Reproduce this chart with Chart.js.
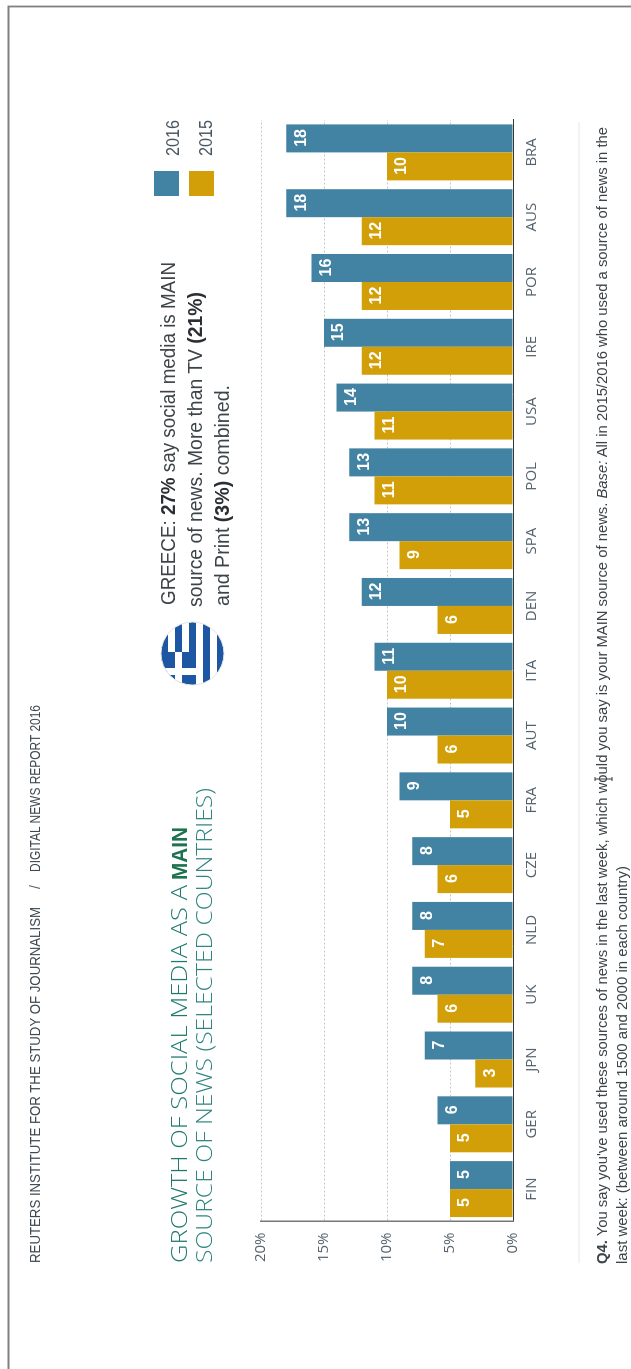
<!DOCTYPE html>
<html>
<head>
<meta charset="utf-8">
<script src="https://cdn.jsdelivr.net/npm/chart.js@4/dist/chart.umd.min.js"></script>
<style>
html,body{margin:0;padding:0;background:#fff;width:631px;height:1369px;overflow:hidden}
#page{position:absolute;left:0;top:0;width:1369px;height:631px;transform-origin:0 0;transform:translate(0,1369px) rotate(-90deg);background:#fff}
#page canvas,#page svg{position:absolute;left:0;top:0}
svg text{font-family:"Liberation Sans",Arial,sans-serif;white-space:pre}
svg text.light{font-family:"Open Sans",sans-serif;font-weight:300}
</style>
</head>
<body>
<div id="page">
<canvas id="c" width="1369" height="631"></canvas>
<svg id="s" width="1369" height="631" viewBox="0 0 1369 631" xmlns="http://www.w3.org/2000/svg">
  <defs><clipPath id="flagClip"><circle cx="715.5" cy="192.5" r="31.5"/></clipPath></defs>
  <!-- page frame -->
  <path d="M0 8.5H1362.5V631" fill="none" stroke="#808080" stroke-width="1.8"/>
  <!-- header -->
  <text x="106" y="40" font-size="15" fill="#3f4a52" textLength="356" lengthAdjust="spacingAndGlyphs">REUTERS INSTITUTE FOR THE STUDY OF JOURNALISM</text>
  <text x="480" y="40" font-size="14" fill="#5a646b">/</text>
  <text x="497" y="40" font-size="15" fill="#3f4a52" textLength="167" lengthAdjust="spacingAndGlyphs">DIGITAL NEWS REPORT 2016</text>
  <!-- title -->
  <text class="light" x="106" y="187" font-size="22" fill="#1f7a6e" textLength="378" lengthAdjust="spacingAndGlyphs">GROWTH OF SOCIAL MEDIA AS A</text>
  <text x="489" y="187" font-size="22" font-weight="700" fill="#1d7350" textLength="53" lengthAdjust="spacingAndGlyphs">MAIN</text>
  <text class="light" x="106" y="212" font-size="22" fill="#2f8580" textLength="475" lengthAdjust="spacingAndGlyphs">SOURCE OF NEWS (SELECTED COUNTRIES)</text>
  <!-- flag -->
  <g clip-path="url(#flagClip)">
    <rect x="684" y="161" width="64" height="64" fill="#fff"/>
    <rect x="684" y="161" width="64" height="7" fill="#1d57a3"/>
    <rect x="684" y="175" width="64" height="7" fill="#1d57a3"/>
    <rect x="684" y="189" width="64" height="7" fill="#1d57a3"/>
    <rect x="684" y="203" width="64" height="7" fill="#1d57a3"/>
    <rect x="684" y="217" width="64" height="7" fill="#1d57a3"/>
    <rect x="684" y="161" width="33" height="35" fill="#1d57a3"/>
    <rect x="684" y="175" width="33" height="7" fill="#fff"/>
    <rect x="694" y="161" width="7" height="35" fill="#fff"/>
  </g>
  <circle cx="715.5" cy="192.5" r="31.5" fill="none" stroke="#e4e4e4" stroke-width="1"/>
  <!-- callout -->
  <text x="764" y="175" font-size="21" fill="#3c4448" textLength="343" lengthAdjust="spacingAndGlyphs">GREECE: <tspan font-weight="700" fill="#2b2f33">27%</tspan> say social media is MAIN</text>
  <text x="762" y="202" font-size="21" fill="#3c4448" textLength="315" lengthAdjust="spacingAndGlyphs">source of news. More than TV <tspan font-weight="700" fill="#2b2f33">(21%)</tspan></text>
  <text x="763" y="229" font-size="21" fill="#3c4448" textLength="221" lengthAdjust="spacingAndGlyphs">and Print <tspan font-weight="700" fill="#2b2f33">(3%)</tspan> combined.</text>
  <!-- legend -->
  <rect x="1173" y="154" width="25" height="25" fill="#4282a2"/>
  <rect x="1173" y="189" width="25" height="25" fill="#d39f08"/>
  <text x="1213" y="179" font-size="18" fill="#4a5660" textLength="36" lengthAdjust="spacingAndGlyphs">2016</text>
  <text x="1213" y="212" font-size="18" fill="#4a5660" textLength="36" lengthAdjust="spacingAndGlyphs">2015</text>
  <!-- footnote -->
  <line x1="106" x2="1247" y1="579" y2="579" stroke="#e6e6e6" stroke-width="1"/>
  <text x="105" y="607" font-size="14" fill="#3c4448" textLength="1137" lengthAdjust="spacingAndGlyphs"><tspan font-weight="700">Q4.</tspan> You say you've used these sources of news in the last week, which would you say is your MAIN source of news. <tspan font-style="italic">Base:</tspan> All in 2015/2016 who used a source of news in the</text>
  <text x="105" y="627" font-size="14" fill="#3c4448" textLength="398" lengthAdjust="spacingAndGlyphs">last week: (between around 1500 and 2000 in each country)</text>
  <!-- stray text cursor in the source capture -->
  <path d="M590 595V612M588 595H592M588 612H592" fill="none" stroke="#33393d" stroke-width="1"/>
</svg>
</div>
<script>
const categories = ['FIN','GER','JPN','UK','NLD','CZE','FRA','AUT','ITA','DEN','SPA','POL','USA','IRE','POR','AUS','BRA'];
const values2015 = [5,5,3,6,7,6,5,6,10,6,9,11,11,12,12,12,10];
const values2016 = [5,6,7,8,8,8,9,10,11,12,13,13,14,15,16,18,18];
const yTicks = [0,5,10,15,20];
const color2015 = '#d39f08';
const color2016 = '#4282a2';

const barLabels = {
  id:'barLabels',
  afterDatasetsDraw(chart){
    const ctx = chart.ctx;
    ctx.save();
    ctx.font = '700 16px "Liberation Sans", sans-serif';
    ctx.fillStyle = '#fff';
    ctx.textAlign = 'center';
    ctx.textBaseline = 'middle';
    chart.data.datasets.forEach((ds,i)=>{
      chart.getDatasetMeta(i).data.forEach((el,j)=>{
        ctx.fillText(String(ds.data[j]), el.x + 0.5, el.y + 15);
      });
    });
    ctx.restore();
  }
};

new Chart(document.getElementById('c'),{
  type:'bar',
  data:{
    labels:categories,
    datasets:[
      {label:'2015',data:values2015,backgroundColor:color2015,categoryPercentage:0.864,barPercentage:1},
      {label:'2016',data:values2016,backgroundColor:color2016,categoryPercentage:0.864,barPercentage:1}
    ]
  },
  plugins:[barLabels],
  options:{
    responsive:false,
    animation:false,
    devicePixelRatio:1,
    layout:{padding:{top:261,right:120,bottom:0,left:0}},
    plugins:{legend:{display:false},title:{display:false},tooltip:{enabled:false}},
    scales:{
      x:{
        afterFit(s){s.height=118;},
        grid:{display:false},
        border:{display:true,color:'#33383c',width:1},
        ticks:{autoSkip:false,maxRotation:0,padding:2,color:'#55636e',font:{family:'"Open Sans"',size:15,weight:'400'}}
      },
      y:{
        min:0,max:20,
        afterFit(s){s.width=147.5;},
        afterBuildTicks(s){s.ticks=yTicks.map(v=>({value:v}));},
        grid:{drawTicks:false,lineWidth:1,color:c=>c.tick.value===0?'rgba(0,0,0,0)':'#c4c4c4'},
        border:{display:true,color:'#777',width:1.5,dash:[2,2]},
        ticks:{padding:11,color:'#55636e',font:{family:'"Open Sans"',size:15,weight:'400'},callback:v=>v+'%'}
      }
    }
  }
});
</script>
</body>
</html>
